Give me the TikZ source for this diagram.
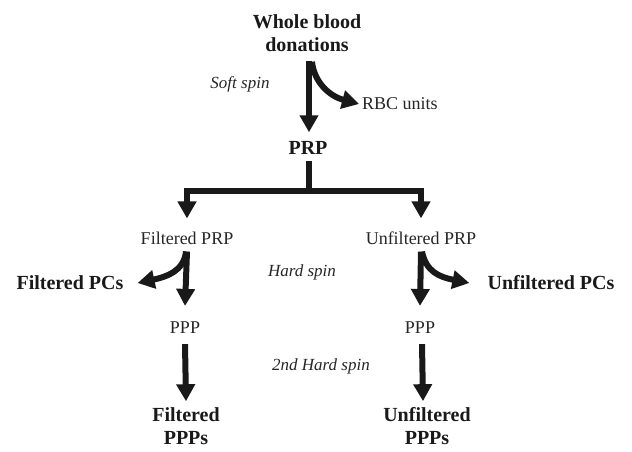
\documentclass[tikz,border=0pt]{standalone}
\usepackage{fontspec}
\setmainfont{Liberation Serif}
\usetikzlibrary{arrows.meta}
\begin{document}
\begin{tikzpicture}[x=1pt,y=-1pt,
  bt/.style={font=\fontsize{20}{23}\selectfont\bfseries, align=center, inner sep=0pt, text=black!90},
  rt/.style={font=\fontsize{18}{20}\selectfont, inner sep=0pt, text=black!85},
  it/.style={font=\fontsize{17}{20}\selectfont\itshape, inner sep=0pt, text=black!85},
  arr/.style={draw=black!90, line width=6pt, -{Triangle[length=17pt,width=18pt]}},
  barline/.style={draw=black!90, line width=6pt},
]
\useasboundingbox (0,0) rectangle (632,451);
% texts
\node[bt] (wb) at (307,33) {Whole blood\\donations};
\node[it] (soft) at (240,84) {Soft spin};
\node[rt, anchor=west] (rbc) at (362,104) {RBC units};
\node[bt] (prp) at (308,148) {PRP};
\node[rt] (fprp) at (187,238) {Filtered PRP};
\node[rt] (uprp) at (421,238) {Unfiltered PRP};
\node[bt] (fpcs) at (70,283) {Filtered PCs};
\node[bt] (upcs) at (551,283) {Unfiltered PCs};
\node[it] (hard) at (302,272) {Hard spin};
\node[rt] (fppp) at (185,328) {PPP};
\node[rt] (uppp) at (420,328) {PPP};
\node[it] (hard2) at (321,366) {2nd Hard spin};
\node[bt] (fppps) at (186,426) {Filtered\\PPPs};
\node[bt] (uppps) at (427,426) {Unfiltered\\PPPs};
\coordinate (bar) at (309,191);
% connectors
\draw[arr] (wb.south -| prp.north) ++(1,9) -- ([xshift=1pt,yshift=9pt]prp.north);
\draw[arr] (wb.south -| prp.north) ++(4,10) .. controls +(2,20) and +(-30,-8) .. ([xshift=-3pt]rbc.west);
\draw[barline] (prp.south) ++(1,6) -- (bar);
\draw[arr] (bar) -| ([yshift=13pt]fprp.north);
\draw[arr] (bar) -| ([yshift=13pt]uprp.north);
\draw[barline] ([xshift=-3pt]bar) -- ([xshift=3pt]bar);
% filtered branch
\draw[arr] ([yshift=-7pt]fprp.south) -- ([yshift=16pt]fppp.north);
\draw[arr] ([xshift=-1pt,yshift=-7pt]fprp.south) .. controls +(-2,20) and +(28,-6) .. ([xshift=14pt]fpcs.east);
% unfiltered branch
\draw[arr] ([yshift=-7pt]uprp.south) -- ([yshift=16pt]uppp.north);
\draw[arr] ([xshift=1pt,yshift=-7pt]uprp.south) .. controls +(4,20) and +(-30,-6) .. ([xshift=-18pt]upcs.west);
% second hard spin
\draw[arr] ([yshift=-10pt]fppp.south) -- ([yshift=6pt]fppps.north);
\draw[arr] ([xshift=2pt,yshift=-10pt]uppp.south) -- ([xshift=-4pt,yshift=6pt]uppps.north);
\end{tikzpicture}
\end{document}
